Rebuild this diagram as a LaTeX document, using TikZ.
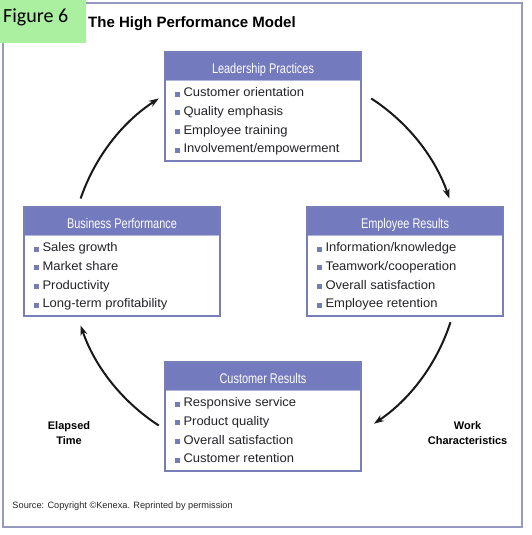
\documentclass[tikz,border=0pt]{standalone}
\usepackage{fontspec}
\setmainfont{Liberation Sans}
\newfontfamily\hdrfont[FakeStretch=0.78]{Liberation Sans}
\newfontfamily\itemfont[FakeStretch=1.04]{Liberation Sans}
\newfontfamily\figfont{Carlito}
\usetikzlibrary{arrows.meta,calc}
\definecolor{hdr}{RGB}{116,122,190}
\definecolor{pborder}{RGB}{120,126,184}
\definecolor{bul}{RGB}{118,124,180}
\definecolor{framecol}{RGB}{150,153,192}
\definecolor{figgreen}{RGB}{170,240,160}
\definecolor{itemcol}{RGB}{35,35,40}
\tikzset{
  panel/.style={anchor=north west, minimum width=196pt, minimum height=109pt, inner sep=0pt, outer sep=0pt},
  panelborder/.style={draw=pborder, line width=1.1pt},
  hdrline/.style={draw=hdr!55!white, line width=0.8pt},
  hdrtext/.style={anchor=base, inner sep=0pt, text=white, font=\hdrfont\fontsize{14}{16}\selectfont},
  itemtext/.style={anchor=base west, inner sep=0pt, text=itemcol, font=\itemfont\fontsize{12.5}{15}\selectfont},
  flow/.style={line width=2pt, black!90, -{Stealth[length=10pt,width=7pt]}, bend left=19, looseness=0.88},
  sidelabel/.style={align=center, inner sep=0pt, font=\bfseries\fontsize{11}{14.5}\selectfont},
}
\newcommand\hpmpanel[4]{%
  \node[panel] (#1) at (#2) {};
  \fill[hdr] (#1.north west) rectangle ([yshift=-28pt]#1.north east);
  \draw[hdrline] ([yshift=-28pt]#1.north west) -- ([yshift=-28pt]#1.north east);
  \node[hdrtext] (#1-title) at ([yshift=-22pt]#1.north) {#3};
  \foreach \txt [count=\i] in {#4}{
    \pgfmathsetmacro\dy{44.7+(\i-1)*18.7}
    \node[itemtext] (#1-\i) at ([xshift=10pt,yshift=-\dy*1pt]#1.north west)
      {\textcolor{bul}{\rule{5pt}{5pt}}\hspace{3.3pt}\txt};
  }
  \draw[panelborder] (#1.north west) rectangle (#1.south east);
}
\begin{document}
\begin{tikzpicture}[x=1pt,y=1pt]
\useasboundingbox (0,0) rectangle (532,535);
\fill[white] (0,0) rectangle (532,535);
% outer frame
\draw[framecol, line width=1.6pt] (3,8) rectangle (522,532);
% figure tag
\fill[figgreen] (0,492) rectangle (86,535);
\node[anchor=base west, inner sep=0pt, font=\figfont\fontsize{20}{24}\selectfont] (figtag) at (3,512.3) {Figure 6};
\node[anchor=base west, inner sep=0pt, font=\bfseries\fontsize{15}{18}\selectfont] (title) at (88,507.7) {The High Performance Model};
% panels
\hpmpanel{lp}{165,483}{Leadership Practices}{Customer orientation,Quality emphasis,Employee training,Involvement/empowerment}
\hpmpanel{bp}{24,328}{Business Performance}{Sales growth,Market share,Productivity,Long-term profitability}
\hpmpanel{er}{307,328}{Employee Results}{Information/knowledge,Teamwork/cooperation,Overall satisfaction,Employee retention}
\hpmpanel{cr}{165,173}{Customer Results}{Responsive service,Product quality,Overall satisfaction,Customer retention}
% cycle arrows
\coordinate (c) at (265,273);
\coordinate (tl-s) at ($(c)+(161:195)$);
\coordinate (tl-e) at ($(c)+(123:195)$);
\coordinate (tr-s) at ($(c)+(57:195)$);
\coordinate (tr-e) at ($(c)+(19:195)$);
\coordinate (br-s) at ($(c)+(-18:195)$);
\coordinate (br-e) at ($(c)+(-56:195)$);
\coordinate (bl-s) at ($(c)+(-123:195)$);
\coordinate (bl-e) at ($(c)+(-161:195)$);
\draw[flow] (tl-s) to (tl-e);
\draw[flow] (tr-s) to (tr-e);
\draw[flow] (br-s) to (br-e);
\draw[flow] (bl-s) to (bl-e);
% side labels
\node[sidelabel] (elapsed) at (69,102) {Elapsed\\Time};
\node[sidelabel] (work) at (467.6,102) {Work\\Characteristics};
% source
\node[anchor=base west, inner sep=0pt, font=\fontsize{9.2}{11}\selectfont, text=black!85] (source) at (12.3,27) {Source: Copyright \textcopyright Kenexa. Reprinted by permission};
\end{tikzpicture}
\end{document}
